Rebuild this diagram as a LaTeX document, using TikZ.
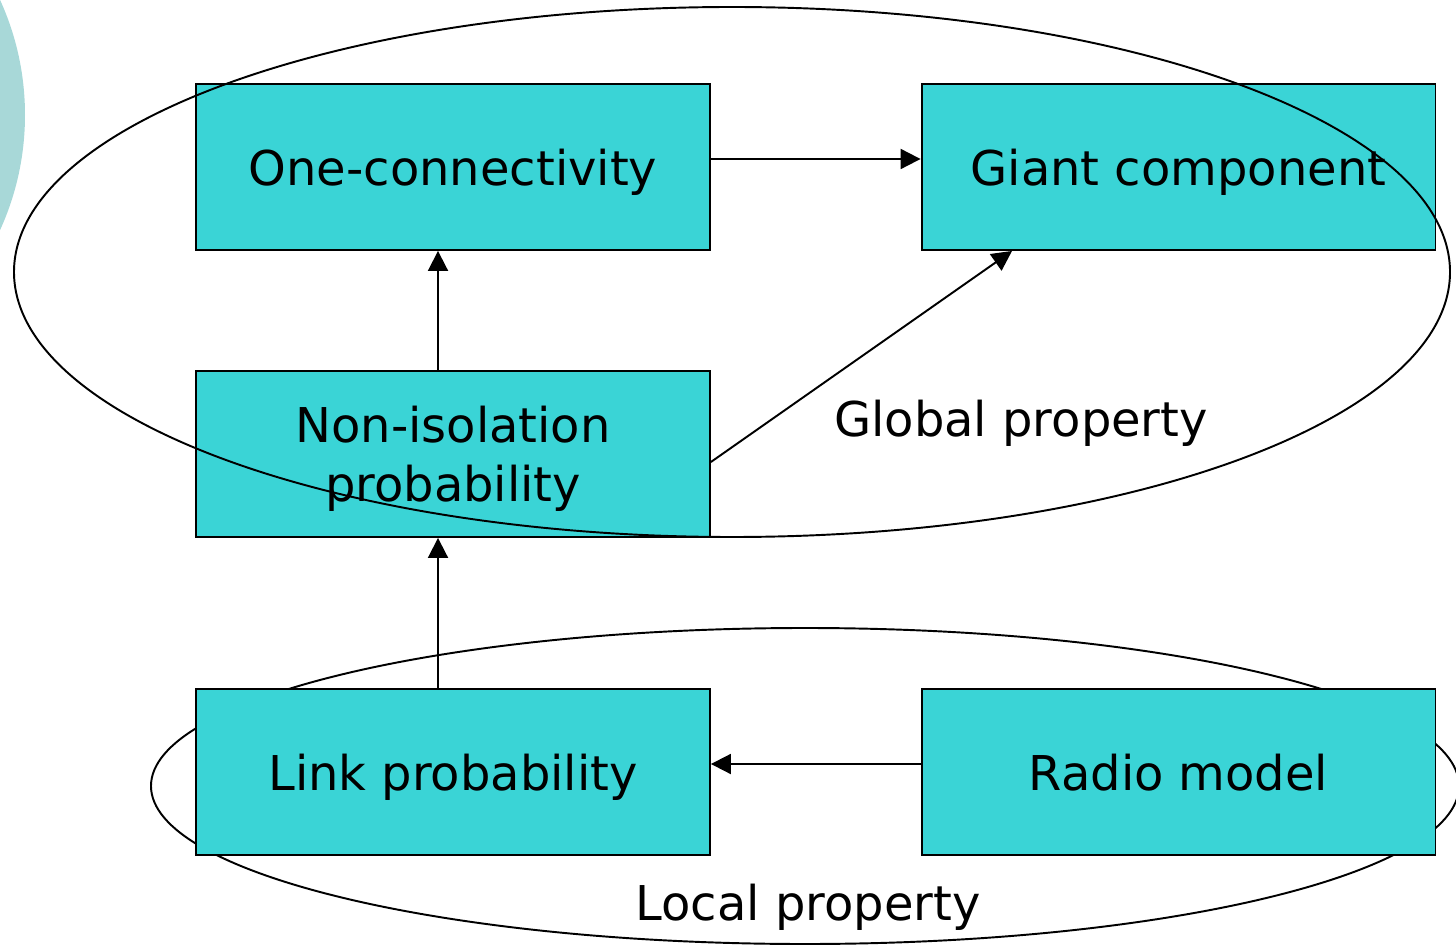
\documentclass[tikz,border=0pt]{standalone}
\usepackage{fontspec}
\setmainfont{DejaVu Sans}
\usetikzlibrary{arrows.meta}
\definecolor{boxteal}{RGB}{58,212,214}
\definecolor{paleteal}{RGB}{168,216,216}
\begin{document}
\begin{tikzpicture}[x=0.02cm,y=-0.02cm,line width=1.1pt,
    main node/.style={rectangle,draw,fill=boxteal,minimum width=10.28cm,minimum height=3.32cm,align=center,text height=20.5pt,text depth=0pt,font=\fontsize{27.3}{34}\selectfont},
    label node/.style={text height=20.5pt,text depth=0pt,font=\fontsize{27.3}{34}\selectfont},
    every edge/.style={draw,-{Triangle[length=0.4cm,width=0.4cm]}}]
        \useasboundingbox (0,0) rectangle (1456,945);
        \fill[paleteal] (-252,115) circle (277);
        \draw (805,786) ellipse (654 and 158);

        \node[main node] at (453, 167) (onecon) {One-connectivity};
        \node[main node] at (1178.5, 167) (giant) {Giant component};
        \node[main node,text height=54.6pt] at (453, 454) (noniso) {Non-isolation\\probability};
        \node[main node] at (453, 772) (link) {Link probability};
        \node[main node] at (1178.5, 772) (radio) {Radio model};

        \draw (732,272) ellipse (718 and 265);
        \node[label node] at (1021, 418) (global) {Global property};
        \node[label node] at (808, 902) (local) {Local property};

        \path
            ([yshift=0.16cm]onecon.east) edge ([yshift=0.16cm]giant.west)
            ([xshift=-0.3cm]noniso.north) edge ([xshift=-0.3cm]onecon.south)
            ([yshift=-0.16cm]noniso.east) edge ([xshift=-3.33cm]giant.south)
            ([xshift=-0.3cm]link.north) edge ([xshift=-0.3cm]noniso.south)
            ([yshift=0.16cm]radio.west) edge ([yshift=0.16cm]link.east)
            ;
    \end{tikzpicture}
\end{document}
